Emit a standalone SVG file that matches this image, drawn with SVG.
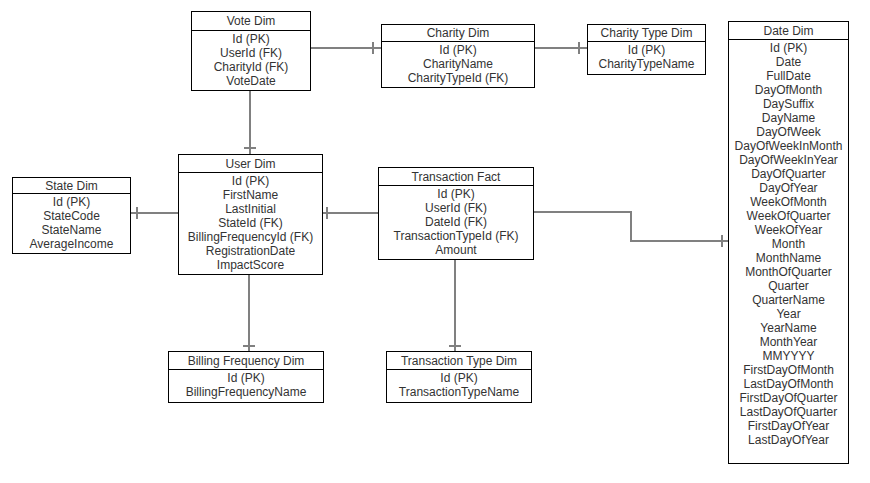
<svg xmlns="http://www.w3.org/2000/svg" width="870" height="483" viewBox="0 0 870 483">
<style>
.box{fill:#fff;stroke:#000;stroke-width:1}
.div{stroke:#000;stroke-width:1}
text{font-family:"Liberation Sans",Arial,sans-serif;font-size:12px;fill:#333;text-anchor:middle}
.c{stroke:#808080;stroke-width:2;fill:none}
</style>
<rect width="870" height="483" fill="#fff"/>
<g id="connectors">
<path class="c" d="M250 91V154M244 148H256"/>
<path class="c" d="M310 48H381M373 42V54"/>
<path class="c" d="M534 48H587M579 42V54"/>
<path class="c" d="M131 213H178M137 207V219"/>
<path class="c" d="M323 213H378M327 207V219"/>
<path class="c" d="M533 212H631V241H728M722 235V247"/>
<path class="c" d="M249 274V351M243 346H255"/>
<path class="c" d="M455 259V351M449 346H461"/>
</g>
<g id="vote-dim">
<rect class="box" x="191.5" y="11.5" width="119" height="79"/>
<line class="div" x1="191" y1="30.5" x2="311" y2="30.5"/>
<text x="251" y="25">Vote Dim</text>
<text x="251" y="43">Id (PK)</text>
<text x="251" y="57">UserId (FK)</text>
<text x="251" y="71">CharityId (FK)</text>
<text x="251" y="85">VoteDate</text>
</g>
<g id="charity-dim">
<rect class="box" x="381.5" y="24.5" width="153" height="63"/>
<line class="div" x1="381" y1="41.5" x2="535" y2="41.5"/>
<text x="458" y="37">Charity Dim</text>
<text x="458" y="54">Id (PK)</text>
<text x="458" y="68">CharityName</text>
<text x="458" y="82">CharityTypeId (FK)</text>
</g>
<g id="charity-type-dim">
<rect class="box" x="587.5" y="24.5" width="118" height="50"/>
<line class="div" x1="587" y1="41.5" x2="706" y2="41.5"/>
<text x="646.5" y="37">Charity Type Dim</text>
<text x="646.5" y="54">Id (PK)</text>
<text x="646.5" y="68">CharityTypeName</text>
</g>
<g id="user-dim">
<rect class="box" x="178.5" y="154.5" width="144" height="120"/>
<line class="div" x1="178" y1="172.5" x2="323" y2="172.5"/>
<text x="250.5" y="167.5">User Dim</text>
<text x="250.5" y="185">Id (PK)</text>
<text x="250.5" y="199">FirstName</text>
<text x="250.5" y="213">LastInitial</text>
<text x="250.5" y="227">StateId (FK)</text>
<text x="250.5" y="241">BillingFrequencyId (FK)</text>
<text x="250.5" y="255">RegistrationDate</text>
<text x="250.5" y="269">ImpactScore</text>
</g>
<g id="state-dim">
<rect class="box" x="12.5" y="177.5" width="118" height="76"/>
<line class="div" x1="12" y1="193.5" x2="131" y2="193.5"/>
<text x="71.5" y="189.5">State Dim</text>
<text x="71.5" y="206">Id (PK)</text>
<text x="71.5" y="220">StateCode</text>
<text x="71.5" y="234">StateName</text>
<text x="71.5" y="248">AverageIncome</text>
</g>
<g id="transaction-fact">
<rect class="box" x="378.5" y="167.5" width="155" height="92"/>
<line class="div" x1="378" y1="185.5" x2="534" y2="185.5"/>
<text x="456" y="180.5">Transaction Fact</text>
<text x="456" y="198">Id (PK)</text>
<text x="456" y="212">UserId (FK)</text>
<text x="456" y="226">DateId (FK)</text>
<text x="456" y="240">TransactionTypeId (FK)</text>
<text x="456" y="254">Amount</text>
</g>
<g id="billing-frequency-dim">
<rect class="box" x="168.5" y="351.5" width="155" height="51"/>
<line class="div" x1="168" y1="369.5" x2="324" y2="369.5"/>
<text x="246" y="364.5">Billing Frequency Dim</text>
<text x="246" y="382">Id (PK)</text>
<text x="246" y="396">BillingFrequencyName</text>
</g>
<g id="transaction-type-dim">
<rect class="box" x="386.5" y="351.5" width="145" height="51"/>
<line class="div" x1="386" y1="369.5" x2="532" y2="369.5"/>
<text x="459" y="364.5">Transaction Type Dim</text>
<text x="459" y="382">Id (PK)</text>
<text x="459" y="396">TransactionTypeName</text>
</g>
<g id="date-dim">
<rect class="box" x="728.5" y="21.5" width="120" height="442"/>
<line class="div" x1="728" y1="39.5" x2="849" y2="39.5"/>
<text x="788.5" y="34.5">Date Dim</text>
<text x="788.5" y="52">Id (PK)</text>
<text x="788.5" y="66">Date</text>
<text x="788.5" y="80">FullDate</text>
<text x="788.5" y="94">DayOfMonth</text>
<text x="788.5" y="108">DaySuffix</text>
<text x="788.5" y="122">DayName</text>
<text x="788.5" y="136">DayOfWeek</text>
<text x="788.5" y="150">DayOfWeekInMonth</text>
<text x="788.5" y="164">DayOfWeekInYear</text>
<text x="788.5" y="178">DayOfQuarter</text>
<text x="788.5" y="192">DayOfYear</text>
<text x="788.5" y="206">WeekOfMonth</text>
<text x="788.5" y="220">WeekOfQuarter</text>
<text x="788.5" y="234">WeekOfYear</text>
<text x="788.5" y="248">Month</text>
<text x="788.5" y="262">MonthName</text>
<text x="788.5" y="276">MonthOfQuarter</text>
<text x="788.5" y="290">Quarter</text>
<text x="788.5" y="304">QuarterName</text>
<text x="788.5" y="318">Year</text>
<text x="788.5" y="332">YearName</text>
<text x="788.5" y="346">MonthYear</text>
<text x="788.5" y="360">MMYYYY</text>
<text x="788.5" y="374">FirstDayOfMonth</text>
<text x="788.5" y="388">LastDayOfMonth</text>
<text x="788.5" y="402">FirstDayOfQuarter</text>
<text x="788.5" y="416">LastDayOfQuarter</text>
<text x="788.5" y="430">FirstDayOfYear</text>
<text x="788.5" y="444">LastDayOfYear</text>
</g>
</svg>
